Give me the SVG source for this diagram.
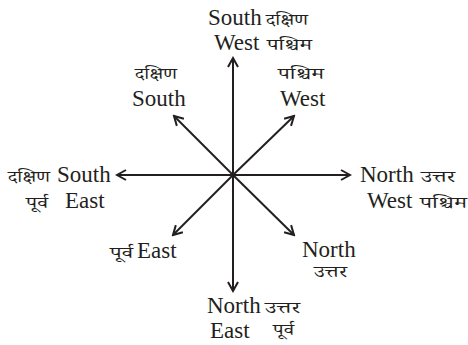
<svg xmlns="http://www.w3.org/2000/svg" width="468" height="345" viewBox="0 0 468 345">
<style>
.en{font-family:"Liberation Serif","Times New Roman",serif;font-size:23px;fill:#231f20}
.hi{font-family:"Noto Serif Devanagari","Noto Sans Devanagari","Noto Sans","Liberation Serif",serif;font-size:16px;fill:#231f20}
.ar{stroke:#231f20;stroke-width:2;fill:none;marker-end:url(#ah)}
</style>
<defs>
<marker id="ah" viewBox="0 0 12 12" refX="10" refY="6" markerWidth="6" markerHeight="6" orient="auto" markerUnits="strokeWidth">
<polyline points="1,1 10,6 1,11" fill="none" stroke="#231f20" stroke-width="2"/>
</marker>
</defs>
<rect width="468" height="345" fill="#fff"/>
<g id="connectors">
<line class="ar" x1="233" y1="175" x2="233" y2="58"/>
<line class="ar" x1="233" y1="175" x2="233" y2="291"/>
<line class="ar" x1="233" y1="175" x2="117" y2="175"/>
<line class="ar" x1="233" y1="175" x2="350" y2="175"/>
<line class="ar" x1="233" y1="175" x2="174" y2="116"/>
<line class="ar" x1="233" y1="175" x2="294" y2="116"/>
<line class="ar" x1="233" y1="175" x2="173" y2="235"/>
<line class="ar" x1="233" y1="175" x2="294" y2="235"/>
</g>
<g id="top">
<text class="en" x="208" y="25">South</text><text class="hi" x="266" y="25" textLength="42" lengthAdjust="spacingAndGlyphs">दक्षिण</text>
<text class="en" x="214" y="50">West</text><text class="hi" x="267" y="50" textLength="45" lengthAdjust="spacingAndGlyphs">पश्चिम</text>
</g>
<g id="nw">
<text class="hi" x="135" y="79" textLength="42" lengthAdjust="spacingAndGlyphs">दक्षिण</text>
<text class="en" x="132" y="106">South</text>
</g>
<g id="ne">
<text class="hi" x="278" y="79" textLength="46" lengthAdjust="spacingAndGlyphs">पश्चिम</text>
<text class="en" x="280" y="106">West</text>
</g>
<g id="left">
<text class="hi" x="8" y="182" textLength="42" lengthAdjust="spacingAndGlyphs">दक्षिण</text><text class="en" x="57" y="182">South</text>
<text class="hi" x="26" y="208" textLength="22" lengthAdjust="spacingAndGlyphs">पूर्व</text><text class="en" x="65" y="208">East</text>
</g>
<g id="right">
<text class="en" x="360" y="182">North</text><text class="hi" x="421" y="182" textLength="34" lengthAdjust="spacingAndGlyphs">उत्तर</text>
<text class="en" x="367" y="208">West</text><text class="hi" x="420" y="208" textLength="47" lengthAdjust="spacingAndGlyphs">पश्चिम</text>
</g>
<g id="sw">
<text class="hi" x="110" y="258" textLength="23" lengthAdjust="spacingAndGlyphs">पूर्व</text><text class="en" x="137" y="258">East</text>
</g>
<g id="se">
<text class="en" x="302" y="257">North</text>
<text class="hi" x="314" y="277" textLength="33" lengthAdjust="spacingAndGlyphs">उत्तर</text>
</g>
<g id="bottom">
<text class="en" x="207" y="313">North</text><text class="hi" x="265" y="313" textLength="35" lengthAdjust="spacingAndGlyphs">उत्तर</text>
<text class="en" x="210" y="338">East</text><text class="hi" x="273" y="335" textLength="21" lengthAdjust="spacingAndGlyphs">पूर्व</text>
</g>
</svg>
